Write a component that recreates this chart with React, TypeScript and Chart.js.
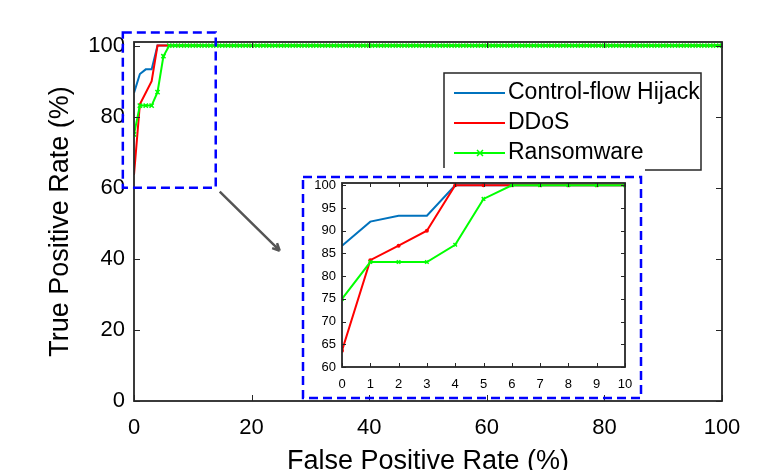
import React, { useEffect, useRef } from "react";
import { Chart, registerables } from "chart.js";

Chart.register(...registerables);

// ---------- data ----------
const FPR = [
  0, 1, 2, 3, 4, 5, 6, 7, 8, 9,
  10, 11, 12, 13, 14, 15, 16, 17, 18, 19,
  20, 21, 22, 23, 24, 25, 26, 27, 28, 29,
  30, 31, 32, 33, 34, 35, 36, 37, 38, 39,
  40, 41, 42, 43, 44, 45, 46, 47, 48, 49,
  50, 51, 52, 53, 54, 55, 56, 57, 58, 59,
  60, 61, 62, 63, 64, 65, 66, 67, 68, 69,
  70, 71, 72, 73, 74, 75, 76, 77, 78, 79,
  80, 81, 82, 83, 84, 85, 86, 87, 88, 89,
  90, 91, 92, 93, 94, 95, 96, 97, 98, 99,
  100,
];

const CFH_TPR = [
  86.7, 92, 93.3, 93.3, 100, 100, 100, 100, 100, 100,
  100, 100, 100, 100, 100, 100, 100, 100, 100, 100,
  100, 100, 100, 100, 100, 100, 100, 100, 100, 100,
  100, 100, 100, 100, 100, 100, 100, 100, 100, 100,
  100, 100, 100, 100, 100, 100, 100, 100, 100, 100,
  100, 100, 100, 100, 100, 100, 100, 100, 100, 100,
  100, 100, 100, 100, 100, 100, 100, 100, 100, 100,
  100, 100, 100, 100, 100, 100, 100, 100, 100, 100,
  100, 100, 100, 100, 100, 100, 100, 100, 100, 100,
  100, 100, 100, 100, 100, 100, 100, 100, 100, 100,
  100,
];

const DDOS_TPR = [
  63.6, 83.5, 86.7, 90, 100, 100, 100, 100, 100, 100,
  100, 100, 100, 100, 100, 100, 100, 100, 100, 100,
  100, 100, 100, 100, 100, 100, 100, 100, 100, 100,
  100, 100, 100, 100, 100, 100, 100, 100, 100, 100,
  100, 100, 100, 100, 100, 100, 100, 100, 100, 100,
  100, 100, 100, 100, 100, 100, 100, 100, 100, 100,
  100, 100, 100, 100, 100, 100, 100, 100, 100, 100,
  100, 100, 100, 100, 100, 100, 100, 100, 100, 100,
  100, 100, 100, 100, 100, 100, 100, 100, 100, 100,
  100, 100, 100, 100, 100, 100, 100, 100, 100, 100,
  100,
];

const RANSOM_TPR = [
  75, 83.1, 83.1, 83.1, 86.9, 97, 100, 100, 100, 100,
  100, 100, 100, 100, 100, 100, 100, 100, 100, 100,
  100, 100, 100, 100, 100, 100, 100, 100, 100, 100,
  100, 100, 100, 100, 100, 100, 100, 100, 100, 100,
  100, 100, 100, 100, 100, 100, 100, 100, 100, 100,
  100, 100, 100, 100, 100, 100, 100, 100, 100, 100,
  100, 100, 100, 100, 100, 100, 100, 100, 100, 100,
  100, 100, 100, 100, 100, 100, 100, 100, 100, 100,
  100, 100, 100, 100, 100, 100, 100, 100, 100, 100,
  100, 100, 100, 100, 100, 100, 100, 100, 100, 100,
  100,
];

const SERIES_NAMES = ["Control-flow Hijack", "DDoS", "Ransomware"];
const X_TITLE = "False Positive Rate (%)";
const Y_TITLE = "True Positive Rate (%)";
const MAIN_X_TICKS = [0, 20, 40, 60, 80, 100];
const MAIN_Y_TICKS = [0, 20, 40, 60, 80, 100];
const INSET_X_TICKS = [0, 1, 2, 3, 4, 5, 6, 7, 8, 9, 10];
const INSET_Y_TICKS = [60, 65, 70, 75, 80, 85, 90, 95, 100];
// region of the main plot that the inset magnifies (data units)
const ZOOM_X = [-1.9, 13.9];
const ZOOM_Y = [60, 103.7];

// ---------- styling ----------
const FONT = '"Liberation Sans", Arial, Helvetica, sans-serif';
const INK = "#262626";
const BLUE = "#0072BD";
const RED = "#FF0000";
const GREEN = "#00FF00";

function toPoints(ys: number[]) {
  return FPR.map((x, i) => ({ x, y: ys[i] }));
}

function makeDatasets(inset: boolean) {
  return [
    {
      label: SERIES_NAMES[0],
      data: toPoints(CFH_TPR),
      borderColor: BLUE,
      backgroundColor: BLUE,
      borderWidth: 2,
      pointRadius: 0,
      order: 3,
    },
    {
      label: SERIES_NAMES[1],
      data: toPoints(DDOS_TPR),
      borderColor: RED,
      backgroundColor: RED,
      borderWidth: 2,
      pointRadius: inset ? 2 : 0,
      pointBorderWidth: 0,
      order: 2,
    },
    {
      label: SERIES_NAMES[2],
      data: toPoints(RANSOM_TPR),
      borderColor: GREEN,
      backgroundColor: GREEN,
      borderWidth: 2,
      pointStyle: "crossRot",
      pointRadius: inset ? 2.5 : 3,
      pointBorderWidth: 1.5,
      order: 1,
    },
  ];
}

function frameTicks(tickLen: number, boxWidth: number) {
  return {
    id: "frameTicks",
    afterDatasetsDraw(chart: any) {
      const { ctx, chartArea: a, scales } = chart;
      const xs = scales.x;
      const ys = scales.y;
      ctx.save();
      ctx.strokeStyle = INK;
      ctx.lineWidth = 1;
      ctx.beginPath();
      xs.ticks.forEach((t: any) => {
        const p = Math.round(xs.getPixelForValue(t.value)) + 0.5;
        ctx.moveTo(p, a.bottom);
        ctx.lineTo(p, a.bottom - tickLen);
        ctx.moveTo(p, a.top);
        ctx.lineTo(p, a.top + tickLen);
      });
      ys.ticks.forEach((t: any) => {
        const p = Math.round(ys.getPixelForValue(t.value)) + 0.5;
        ctx.moveTo(a.left, p);
        ctx.lineTo(a.left + tickLen, p);
        ctx.moveTo(a.right, p);
        ctx.lineTo(a.right - tickLen, p);
      });
      ctx.stroke();
      ctx.lineWidth = boxWidth;
      ctx.strokeRect(a.left, a.top, a.right - a.left, a.bottom - a.top);
      ctx.restore();
    },
  };
}

function drawCross(ctx: CanvasRenderingContext2D, x: number, y: number, r: number) {
  ctx.beginPath();
  ctx.moveTo(x - r, y - r);
  ctx.lineTo(x + r, y + r);
  ctx.moveTo(x - r, y + r);
  ctx.lineTo(x + r, y - r);
  ctx.stroke();
}

const boxLegend = {
  id: "boxLegend",
  afterDraw(chart: any) {
    const { ctx } = chart;
    const L = 444, T = 73, R = 701, B = 170;
    ctx.save();
    ctx.fillStyle = "#fff";
    ctx.fillRect(L, T, R - L, B - T);
    ctx.strokeStyle = INK;
    ctx.lineWidth = 1.5;
    ctx.strokeRect(L, T, R - L, B - T);
    chart.data.datasets.forEach((ds: any, i: number) => {
      const y = 93 + i * 30;
      ctx.strokeStyle = ds.borderColor;
      ctx.lineWidth = 2;
      ctx.beginPath();
      ctx.moveTo(454, y);
      ctx.lineTo(505, y);
      ctx.stroke();
      if (ds.pointStyle === "crossRot") {
        ctx.lineWidth = 1.5;
        drawCross(ctx, 480, y, 3);
      }
      ctx.fillStyle = "#000";
      ctx.font = `23px ${FONT}`;
      ctx.textBaseline = "middle";
      ctx.textAlign = "left";
      ctx.fillText(ds.label, 508, y);
    });
    ctx.restore();
  },
};

const zoomMarker = {
  id: "zoomMarker",
  afterDraw(chart: any) {
    const { ctx, scales } = chart;
    const x0 = scales.x.getPixelForValue(ZOOM_X[0]);
    const x1 = scales.x.getPixelForValue(ZOOM_X[1]);
    const y0 = scales.y.getPixelForValue(ZOOM_Y[1]);
    const y1 = scales.y.getPixelForValue(ZOOM_Y[0]);
    ctx.save();
    ctx.strokeStyle = "#0000FF";
    ctx.lineWidth = 2.5;
    ctx.setLineDash([9, 5]);
    ctx.strokeRect(x0, y0, x1 - x0, y1 - y0);
    ctx.setLineDash([]);
    // arrow
    const sx = x1 + 4, sy = y1 + 4;
    const ex = sx + 60, ey = sy + 59;
    ctx.strokeStyle = "#555";
    ctx.lineWidth = 2.5;
    ctx.beginPath();
    ctx.moveTo(sx, sy);
    ctx.lineTo(ex, ey);
    const ang = Math.atan2(ey - sy, ex - sx);
    const hl = 8;
    ctx.moveTo(ex, ey);
    ctx.lineTo(ex - hl * Math.cos(ang - 0.45), ey - hl * Math.sin(ang - 0.45));
    ctx.moveTo(ex, ey);
    ctx.lineTo(ex - hl * Math.cos(ang + 0.45), ey - hl * Math.sin(ang + 0.45));
    ctx.stroke();
    ctx.restore();
  },
};

const insetBackdrop = {
  id: "insetBackdrop",
  beforeDraw(chart: any) {
    const { ctx, width } = chart;
    ctx.save();
    ctx.fillStyle = "#fff";
    ctx.fillRect(0, 0, width, 222);
    ctx.restore();
  },
  afterDraw(chart: any) {
    const { ctx } = chart;
    ctx.save();
    ctx.strokeStyle = "#0000FF";
    ctx.lineWidth = 2.5;
    ctx.setLineDash([9, 5]);
    ctx.strokeRect(3, 9, 338, 221);
    ctx.restore();
  },
};

export default function App() {
  const mainRef = useRef<HTMLCanvasElement>(null);
  const insetRef = useRef<HTMLCanvasElement>(null);

  useEffect(() => {
    document.body.style.margin = "0";

    const main = new Chart(mainRef.current as HTMLCanvasElement, {
      type: "line",
      data: { datasets: makeDatasets(false) as any },
      options: {
        responsive: false,
        animation: false,
        devicePixelRatio: 1,
        layout: { padding: { left: 0, top: 42, right: 47, bottom: 0 } },
        plugins: { legend: { display: false }, tooltip: { enabled: false } },
        scales: {
          x: {
            type: "linear",
            min: 0,
            max: 100,
            grid: { display: false, drawTicks: false },
            border: { display: false },
            afterBuildTicks: (s: any) => {
              s.ticks = MAIN_X_TICKS.map((v) => ({ value: v }));
            },
            afterFit: (s: any) => {
              s.height = 69;
            },
            ticks: {
              font: { family: FONT, size: 22 },
              color: "#000",
              padding: 14,
              maxRotation: 0,
              autoSkip: false,
            },
            title: {
              display: true,
              text: X_TITLE,
              color: "#000",
              font: { family: FONT, size: 27, lineHeight: 1 },
              padding: { top: 0, bottom: -5 },
            },
          },
          y: {
            type: "linear",
            min: 0,
            max: 101,
            grid: { display: false, drawTicks: false },
            border: { display: false },
            afterBuildTicks: (s: any) => {
              s.ticks = MAIN_Y_TICKS.map((v) => ({ value: v }));
            },
            afterFit: (s: any) => {
              s.width = 134;
            },
            ticks: {
              font: { family: FONT, size: 22 },
              color: "#000",
              padding: 9,
              autoSkip: false,
            },
            title: {
              display: true,
              text: Y_TITLE,
              color: "#000",
              font: { family: FONT, size: 27, lineHeight: 1 },
              padding: { top: 47, bottom: 0 },
            },
          },
        },
      },
      plugins: [frameTicks(6, 1.8), zoomMarker, boxLegend],
    } as any);

    const inset = new Chart(insetRef.current as HTMLCanvasElement, {
      type: "line",
      data: { datasets: makeDatasets(true) as any },
      options: {
        responsive: false,
        animation: false,
        devicePixelRatio: 1,
        layout: { padding: { left: 0, top: 15, right: 20, bottom: 0 } },
        plugins: { legend: { display: false }, tooltip: { enabled: false } },
        scales: {
          x: {
            type: "linear",
            min: 0,
            max: 10,
            grid: { display: false, drawTicks: false },
            border: { display: false },
            afterBuildTicks: (s: any) => {
              s.ticks = INSET_X_TICKS.map((v) => ({ value: v }));
            },
            afterFit: (s: any) => {
              s.height = 33;
            },
            ticks: {
              font: { family: FONT, size: 13 },
              color: "#000",
              padding: 10,
              maxRotation: 0,
              autoSkip: false,
            },
          },
          y: {
            type: "linear",
            min: 60,
            max: 100.5,
            grid: { display: false, drawTicks: false },
            border: { display: false },
            afterBuildTicks: (s: any) => {
              s.ticks = INSET_Y_TICKS.map((v) => ({ value: v }));
            },
            afterFit: (s: any) => {
              s.width = 42;
            },
            ticks: {
              font: { family: FONT, size: 13 },
              color: "#000",
              padding: 6,
              autoSkip: false,
            },
          },
        },
      },
      plugins: [insetBackdrop, frameTicks(4, 1.8)],
    } as any);

    return () => {
      main.destroy();
      inset.destroy();
    };
  }, []);

  return (
    <div style={{ position: "relative", width: 769, height: 470, background: "#fff", overflow: "hidden" }}>
      <canvas
        ref={mainRef}
        width={769}
        height={470}
        style={{ position: "absolute", left: 0, top: 0, width: 769, height: 470 }}
      />
      <canvas
        ref={insetRef}
        width={345}
        height={232}
        style={{ position: "absolute", left: 300, top: 168, width: 345, height: 232 }}
      />
    </div>
  );
}
